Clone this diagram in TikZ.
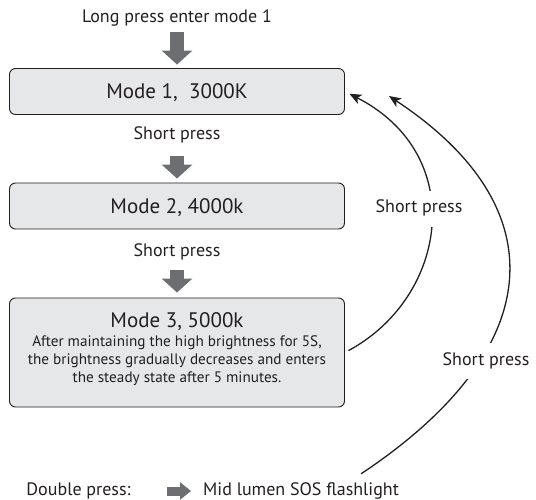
\documentclass[tikz,border=0pt]{standalone}
\usepackage{fontspec}
\setmainfont{PT Sans}
\usetikzlibrary{arrows.meta, positioning}

\definecolor{boxgray}{HTML}{E6E7E8}
\definecolor{arrowgray}{HTML}{6D6E71}
\definecolor{inkblack}{HTML}{231F20}

\tikzset{
  modebox/.style={draw=inkblack, line width=0.9pt, rounded corners=6pt, fill=boxgray,
    minimum width=335pt, minimum height=46pt, inner sep=0pt,
    text height=15pt, text depth=0pt, font=\fontsize{21pt}{24pt}\selectfont, text=inkblack},
  modetitle/.style={inner sep=0pt, text height=15pt, text depth=0pt,
    font=\fontsize{21pt}{24pt}\selectfont, text=inkblack},
  notetext/.style={inner sep=0pt, align=center, font=\fontsize{15.2pt}{18pt}\selectfont, text=inkblack},
  presslabel/.style={inner sep=0pt, text height=12pt, text depth=4pt,
    font=\fontsize{18pt}{21pt}\selectfont, text=inkblack},
  arclabel/.style={presslabel, fill=white, inner xsep=1pt, inner ysep=10pt},
  blockarrow/.style={draw=arrowgray, line width=14pt, -{Triangle[width=30pt,length=14pt]}},
  smallarrow/.style={draw=arrowgray, line width=9pt, -{Triangle[width=17pt,length=11pt]}},
  returnarrow/.style={draw=inkblack, line width=1.3pt, -{Stealth[length=12pt,width=10pt,inset=3pt]}},
}

\begin{document}
\begin{tikzpicture}[x=1pt, y=-1pt]
\useasboundingbox (0,0) rectangle (536,500);

\node [presslabel                                  ] (title) at (177,18.7) {Long press enter mode 1};
\node [modebox   , below of=title, node distance=72.8pt] (m1) {Mode 1,~ 3000K};
\node [presslabel, below of=m1   , node distance=44.5pt] (sp1) {Short press};
\node [modebox   , below of=sp1  , node distance=70pt  ] (m2) {Mode 2, 4000k};
\node [presslabel, below of=m2   , node distance=46.7pt] (sp2) {Short press};
\node [modebox, minimum height=109pt, below of=sp2, node distance=99.8pt] (m3) {};
\node [modetitle, yshift=-22.5pt] (m3h) at (m3.north) {Mode 3, 5000k};
\node [notetext, anchor=north, yshift=-38pt] (m3n) at (m3.north)
  {After maintaining the high brightness for 5S,\\
   the brightness gradually decreases and enters\\
   the steady state after 5 minutes.};

\node [presslabel               ] (dbl) at (78.5,491) {Double press:};
\node [presslabel, anchor=west  ] (sos) at (203,491)  {Mid lumen SOS flashlight};

\draw [blockarrow, shorten <=5.3pt, shorten >=3.5pt] (title.south) -- (m1.north);
\draw [blockarrow, shorten <=12pt , shorten >=4pt  ] (sp1.south)   -- (m2.north);
\draw [blockarrow, shorten <=9.3pt, shorten >=5pt  ] (sp2.south)   -- (m3.north);
\draw [smallarrow, shorten <=36pt , shorten >=12pt ] (dbl.east)    -- (sos.west);

% return arcs
\coordinate (sosTop) at ([xshift=-38pt,yshift=9pt]sos.north east);
\coordinate (ret)    at ([xshift=44pt,yshift=-4.5pt]m1.east);
\draw [returnarrow, shorten <=4pt, shorten >=5pt] (m3.east) .. controls +(103,-55.5) and +(124,63.5) .. (m1.east);
\draw [returnarrow] (sosTop) .. controls +(188,-125) and +(168,111) .. (ret);
\node [arclabel] (lab1) at (419,209) {Short press};
\node [arclabel] (lab2) at (486,361) {Short press};

\end{tikzpicture}
\end{document}
